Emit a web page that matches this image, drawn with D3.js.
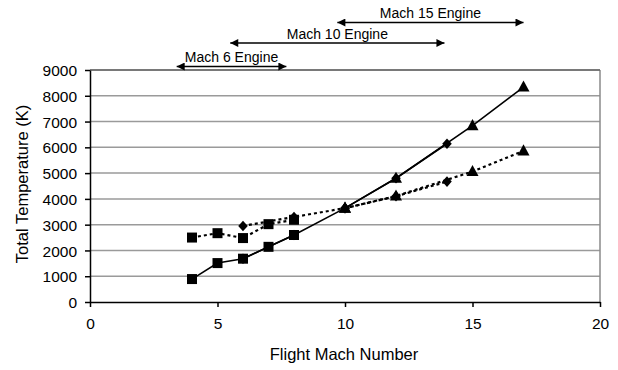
<!DOCTYPE html>
<html>
<head>
<meta charset="utf-8">
<script src="https://cdn.jsdelivr.net/npm/d3@7"></script>
<style>
  body { margin: 0; background: #fff; }
  text { font-family: "Liberation Sans", Arial, sans-serif; fill: #000; }
</style>
</head>
<body>
<script>
// chart data
var yTicks = [0, 1000, 2000, 3000, 4000, 5000, 6000, 7000, 8000, 9000];
var xTicks = [0, 5, 10, 15, 20];

var mach6X = [4, 5, 6, 7, 8];
var mach6Solid = [890, 1510, 1680, 2140, 2600];
var mach6Dotted = [2500, 2670, 2480, 3020, 3190];

var mach10X = [6, 8, 10, 12, 14];
var mach10Solid = [1680, 2600, 3640, 4800, 6140];
var mach10Dotted = [2950, 3300, 3640, 4100, 4670];

var mach15X = [10, 12, 15, 17];
var mach15Solid = [3640, 4800, 6840, 8340];
var mach15Dotted = [3640, 4110, 5060, 5860];

var engineNames = ["Mach 6 Engine", "Mach 10 Engine", "Mach 15 Engine"];
var engineRanges = [[3.4, 7.7], [5.5, 13.9], [9.7, 17.0]];

window.onload = function(){

    var w = 618, h = 370;
    var left = 90, right = 600, top = 70, bottom = 302;

    var svg = d3.select("body")
        .append("svg")
        .attr("width", w)
        .attr("height", h);

    var defs = svg.append("defs");
    defs.append("marker") //arrow head, used at both ends
        .attr("id", "arrow")
        .attr("viewBox", "0 0 10 10")
        .attr("refX", 10)
        .attr("refY", 5)
        .attr("markerUnits", "userSpaceOnUse")
        .attr("markerWidth", 10)
        .attr("markerHeight", 8)
        .attr("orient", "auto-start-reverse")
        .append("path")
        .attr("d", "M0,0L10,5L0,10Z")
        .style("fill", "#000");

    var x = d3.scaleLinear().domain([0, 20]).range([left, right]);
    var y = d3.scaleLinear().domain([0, 9000]).range([bottom, top]);

    //gridlines
    svg.append("g")
        .selectAll("line")
        .data(yTicks.slice(1))
        .enter()
        .append("line")
        .attr("x1", left)
        .attr("x2", right)
        .attr("y1", function(d){ return y(d); })
        .attr("y2", function(d){ return y(d); })
        .style("stroke", "#9a9a9a")
        .style("stroke-width", 1.5);

    //plot border, top and right
    svg.append("line")
        .attr("x1", right).attr("x2", right)
        .attr("y1", top).attr("y2", bottom)
        .style("stroke", "#8a8a8a")
        .style("stroke-width", 1.5);
    svg.append("line")
        .attr("x1", left).attr("x2", right)
        .attr("y1", top).attr("y2", top)
        .style("stroke", "#666")
        .style("stroke-width", 1.5);

    //axes
    var yAxis = svg.append("g")
        .attr("transform", "translate(" + left + ",0)")
        .call(d3.axisLeft(y).tickValues(yTicks).tickFormat(d3.format("d"))
            .tickSize(5).tickSizeOuter(0).tickPadding(8));
    var xAxis = svg.append("g")
        .attr("transform", "translate(0," + bottom + ")")
        .call(d3.axisBottom(x).tickValues(xTicks).tickFormat(d3.format("d"))
            .tickSize(5).tickSizeOuter(0).tickPadding(11));

    svg.selectAll(".domain, .tick line")
        .style("stroke", "#000")
        .style("stroke-width", 1.5);
    svg.selectAll(".tick text")
        .attr("font-size", null)
        .style("font-size", "15.5px")
        .style("font-family", "Liberation Sans, Arial, sans-serif");
    yAxis.selectAll("text").attr("dy", "0.36em");

    //axis titles
    svg.append("text")
        .attr("text-anchor", "middle")
        .attr("transform", "translate(28,184) rotate(-90)")
        .style("font-size", "16.5px")
        .text("Total Temperature (K)");
    svg.append("text")
        .attr("text-anchor", "middle")
        .attr("x", 344)
        .attr("y", 360)
        .style("font-size", "16.5px")
        .text("Flight Mach Number");

    //marker shapes, size = half extent in px
    var diamond = { draw: function(ctx, s){
        ctx.moveTo(0, -s); ctx.lineTo(s * 0.9, 0); ctx.lineTo(0, s); ctx.lineTo(-s * 0.9, 0); ctx.closePath();
    }};
    var triangle = { draw: function(ctx, s){
        ctx.moveTo(0, -s * 1.1); ctx.lineTo(s, s * 0.75); ctx.lineTo(-s, s * 0.75); ctx.closePath();
    }};
    var square = { draw: function(ctx, s){
        ctx.rect(-s, -s, 2 * s, 2 * s);
    }};

    //series: drawn Mach 15 first so that Mach 6 squares sit on top
    var series = [
        { xs: mach15X, ys: mach15Solid, dash: null, shape: triangle, size: 6 },
        { xs: mach15X, ys: mach15Dotted, dash: "3,3", shape: triangle, size: 6 },
        { xs: mach10X, ys: mach10Solid, dash: null, shape: diamond, size: 5.3 },
        { xs: mach10X, ys: mach10Dotted, dash: "3,3", shape: diamond, size: 5.3 },
        { xs: mach6X, ys: mach6Solid, dash: null, shape: square, size: 5 },
        { xs: mach6X, ys: mach6Dotted, dash: "3,3", shape: square, size: 5 }
    ];

    var line = d3.line()
        .x(function(d){ return x(d[0]); })
        .y(function(d){ return y(d[1]); });

    series.forEach(function(s){
        var pts = s.xs.map(function(v, i){ return [v, s.ys[i]]; });
        svg.append("path")
            .datum(pts)
            .attr("d", line)
            .style("fill", "none")
            .style("stroke", "#000")
            .style("stroke-width", s.dash ? 2.2 : 1.6)
            .style("stroke-dasharray", s.dash);
    });

    series.forEach(function(s){
        var pts = s.xs.map(function(v, i){ return [v, s.ys[i]]; });
        svg.append("g")
            .selectAll("path")
            .data(pts)
            .enter()
            .append("path")
            .attr("transform", function(d){
                return "translate(" + x(d[0]) + "," + y(d[1]) + ")";
            })
            .attr("d", d3.symbol().type(s.shape).size(s.size))
            .style("fill", "#000");
    });

    //engine range arrows
    var arrowY = [66.5, 43, 22.5];
    engineNames.forEach(function(name, i){
        var r = engineRanges[i];
        svg.append("line")
            .attr("x1", x(r[0]))
            .attr("x2", x(r[1]))
            .attr("y1", arrowY[i])
            .attr("y2", arrowY[i])
            .attr("marker-start", "url(#arrow)")
            .attr("marker-end", "url(#arrow)")
            .style("stroke", "#000")
            .style("stroke-width", 1.5);
        svg.append("text")
            .attr("text-anchor", "middle")
            .attr("x", (x(r[0]) + x(r[1])) / 2)
            .attr("y", arrowY[i] - 4.5)
            .style("font-size", "14px")
            .text(name);
    });
};
</script>
</body>
</html>
